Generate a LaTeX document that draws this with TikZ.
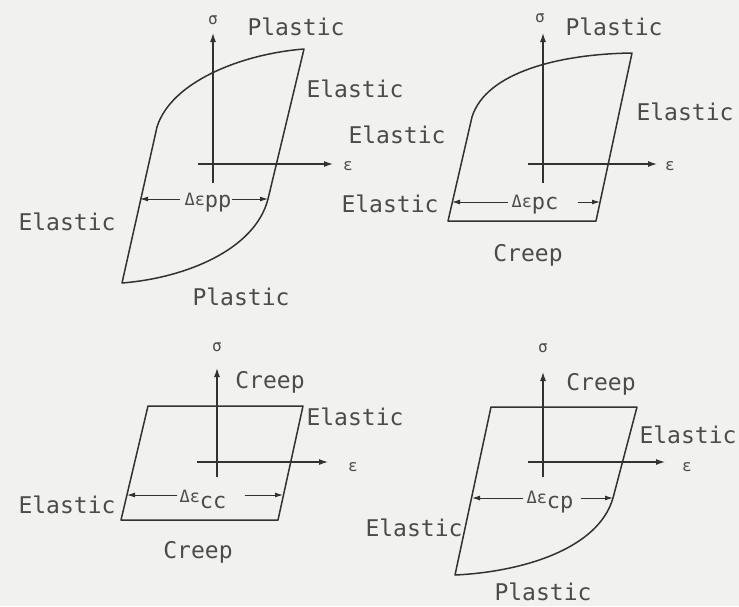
\documentclass[tikz,border=0pt]{standalone}
\usepackage{fontspec}
\setmonofont{DejaVu Sans Mono}
\usetikzlibrary{arrows.meta}
\definecolor{bg}{RGB}{241,241,239}
\definecolor{ink}{RGB}{50,50,50}
\definecolor{txt}{RGB}{75,75,75}
\tikzset{
  loopline/.style={draw=ink, line width=1.5pt, line join=round},
  axis/.style={draw=ink, line width=1.2pt, -{Latex[length=9pt,width=6pt]}},
  dim/.style={draw=ink, line width=1pt, -{Latex[length=8pt,width=5pt]}},
  lbl/.style={text=txt, font=\ttfamily\fontsize{23}{23}\selectfont, inner sep=0pt, anchor=base},
  greek/.style={text=txt, font=\ttfamily\fontsize{16}{16}\selectfont, inner sep=0pt},
  dlbl/.style={text=txt, inner sep=0pt, anchor=base},
}
\newcommand{\dsmall}{\ttfamily\fontsize{17}{17}\selectfont}
\newcommand{\dbig}{\ttfamily\fontsize{22}{22}\selectfont}
\begin{document}
\begin{tikzpicture}[x=1pt,y=-1pt]
\fill[bg] (0,0) rectangle (739,606);
\useasboundingbox (0,0) rectangle (739,606);

% ---------- Panel 1 ----------
\coordinate (p1A) at (304,49);
\coordinate (p1B) at (268,199);
\coordinate (p1C) at (122,283);
\coordinate (p1D) at (157,127);
\draw[loopline] (p1D) .. controls (171,82) and (241,54) .. (p1A) -- (p1B)
  .. controls (255,250) and (185,278) .. (p1C) -- cycle;
\coordinate (p1s0) at (213,183);
\coordinate (p1s1) at (213,33);
\coordinate (p1e0) at (198,164);
\coordinate (p1e1) at (333,164);
\draw[axis] (p1s0) -- (p1s1);
\draw[axis] (p1e0) -- (p1e1);
\node[greek] (p1sig) at (213,20) {σ};
\node[greek] (p1eps) at (348,166) {ε};
\node[lbl] (p1pt) at (296,35) {Plastic};
\node[lbl] (p1er) at (355,97) {Elastic};
\node[lbl] (p1el) at (67,230) {Elastic};
\node[lbl] (p1pb) at (241,305) {Plastic};
\node[dlbl] (p1d) at (208,205) {{\dsmall Δε}\raisebox{-2pt}{\dbig pp}};
\coordinate (p1tl) at (140,199);
\coordinate (p1tr) at (268,199);
\draw[dim, shorten <=4pt] (p1tl -| p1d.west) -- (p1tl);
\draw[dim] (p1tr -| p1d.east) -- (p1tr);

% ---------- Panel 2 ----------
\coordinate (p2A) at (632,53);
\coordinate (p2B) at (596,221);
\coordinate (p2C) at (448,221);
\coordinate (p2D) at (472,117);
\draw[loopline] (p2D) .. controls (486,72) and (560,54) .. (p2A) -- (p2B) -- (p2C) -- cycle;
\coordinate (p2s0) at (543,183);
\coordinate (p2s1) at (543,33);
\coordinate (p2e0) at (528,164);
\coordinate (p2e1) at (657,164);
\draw[axis] (p2s0) -- (p2s1);
\draw[axis] (p2e0) -- (p2e1);
\node[greek] (p2sig) at (540,18) {σ};
\node[greek] (p2eps) at (670,166) {ε};
\node[lbl] (p2pt) at (614,35) {Plastic};
\node[lbl] (p2eu) at (397,143) {Elastic};
\node[lbl] (p2el) at (390,212) {Elastic};
\node[lbl] (p2er) at (685,120) {Elastic};
\node[lbl] (p2cr) at (528,261) {Creep};
\node[dlbl] (p2d) at (535,207) {{\dsmall Δε}\raisebox{-2pt}{\dbig pc}};
\coordinate (p2tl) at (452,202);
\coordinate (p2tr) at (600,202);
\draw[dim, shorten <=3pt] (p2tl -| p2d.west) -- (p2tl);
\draw[dim, shorten <=19pt] (p2tr -| p2d.east) -- (p2tr);

% ---------- Panel 3 ----------
\coordinate (p3TL) at (148,406);
\coordinate (p3TR) at (303,406);
\coordinate (p3BR) at (278,520);
\coordinate (p3BL) at (121,520);
\draw[loopline] (p3TL) -- (p3TR) -- (p3BR) -- (p3BL) -- cycle;
\coordinate (p3s0) at (217,477);
\coordinate (p3s1) at (217,368);
\coordinate (p3e0) at (197,462);
\coordinate (p3e1) at (328,462);
\draw[axis] (p3s0) -- (p3s1);
\draw[axis] (p3e0) -- (p3e1);
\node[greek] (p3sig) at (217,347) {σ};
\node[greek] (p3eps) at (353,467) {ε};
\node[lbl] (p3ct) at (270,388) {Creep};
\node[lbl] (p3er) at (355,425) {Elastic};
\node[lbl] (p3el) at (67,513) {Elastic};
\node[lbl] (p3cb) at (198,558) {Creep};
\node[dlbl] (p3d) at (203,502) {{\dsmall Δε}\raisebox{-6pt}{\dbig cc}};
\coordinate (p3tl) at (127,495);
\coordinate (p3tr) at (283,495);
\draw[dim, shorten <=2pt] (p3tl -| p3d.west) -- (p3tl);
\draw[dim, shorten <=18pt] (p3tr -| p3d.east) -- (p3tr);

% ---------- Panel 4 ----------
\coordinate (p4TL) at (491,407);
\coordinate (p4TR) at (637,407);
\coordinate (p4B) at (613,498);
\coordinate (p4BL) at (455,575);
\draw[loopline] (p4TL) -- (p4TR) -- (p4B)
  .. controls (598,550) and (520,572) .. (p4BL) -- cycle;
\coordinate (p4s0) at (543,477);
\coordinate (p4s1) at (543,372);
\coordinate (p4e0) at (528,462);
\coordinate (p4e1) at (665,462);
\draw[axis] (p4s0) -- (p4s1);
\draw[axis] (p4e0) -- (p4e1);
\node[greek] (p4sig) at (543,348) {σ};
\node[greek] (p4eps) at (687,467) {ε};
\node[lbl] (p4ct) at (601,390) {Creep};
\node[lbl] (p4er) at (688,443) {Elastic};
\node[lbl] (p4el) at (414,536) {Elastic};
\node[lbl] (p4pb) at (543,600) {Plastic};
\node[dlbl] (p4d) at (550,503) {{\dsmall Δε}\raisebox{-5pt}{\dbig cp}};
\coordinate (p4tl) at (472,498);
\coordinate (p4tr) at (613,498);
\draw[dim, shorten <=3pt] (p4tl -| p4d.west) -- (p4tl);
\draw[dim, shorten <=7pt] (p4tr -| p4d.east) -- (p4tr);
\end{tikzpicture}
\end{document}
